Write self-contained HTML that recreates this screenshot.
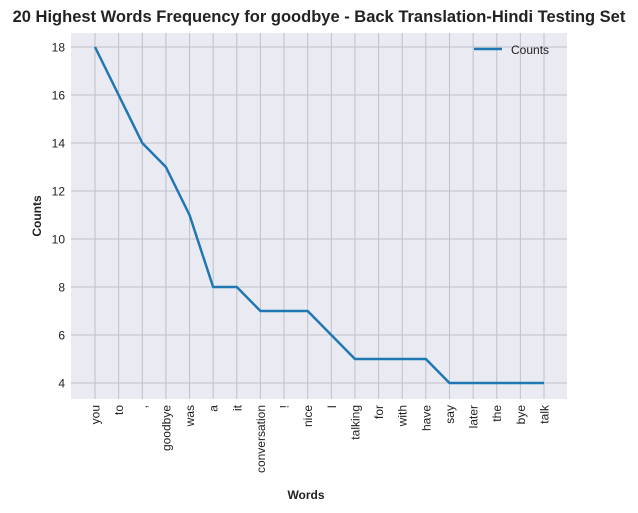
<!DOCTYPE html>
<html><head><meta charset="utf-8"><style>
body{margin:0;background:#fff;}
svg{display:block;font-family:"Liberation Sans",Arial,sans-serif;}
</style></head><body>
<svg id="chart" width="638" height="513">
<text x="319" y="22" text-anchor="middle" font-size="16.5" font-weight="bold" fill="#222">20 Highest Words Frequency for goodbye - Back Translation-Hindi Testing Set</text>
<rect x="71" y="33" width="496" height="366" fill="#eaeaf2"/>
<g id="grid"></g>
<g id="yticks"></g>
<g id="xticks"></g>
<path id="line" fill="none" stroke="#1f77b4" stroke-width="2.5" stroke-linejoin="round"/>
<text x="306" y="499" text-anchor="middle" font-size="12" font-weight="bold" fill="#222">Words</text>
<text transform="translate(41,216) rotate(-90)" text-anchor="middle" font-size="12" font-weight="bold" fill="#222">Counts</text>
<g>
<line x1="474" y1="49" x2="502" y2="49" stroke="#1f77b4" stroke-width="2.5"/>
<text x="511" y="54" font-size="12" fill="#222">Counts</text>
</g>
</svg>
<script>
const categories=["you","to",",","goodbye","was","a","it","conversation","!","nice","I","talking","for","with","have","say","later","the","bye","talk"];
const counts=[18,16,14,13,11,8,8,7,7,7,6,5,5,5,5,4,4,4,4,4];
const yTicks=[4,6,8,10,12,14,16,18];
const NS="http://www.w3.org/2000/svg";
const x0=95,x1=544,yTop=47,yBot=383;
function xs(i){return x0+(x1-x0)*i/(categories.length-1);}
function ys(v){return yBot-(v-4)*(yBot-yTop)/14;}
function mk(t,a,p){const e=document.createElementNS(NS,t);for(const k in a)e.setAttribute(k,a[k]);p.appendChild(e);return e;}
const grid=document.getElementById('grid'),yt=document.getElementById('yticks'),xt=document.getElementById('xticks');
yTicks.forEach(v=>{
 const l=mk('line',{x1:71,x2:567,y1:ys(v),y2:ys(v),stroke:'#c0c0c8','stroke-width':1},grid);
 
 
 const t=mk('text',{x:65,y:ys(v)+4.5,'text-anchor':'end','font-size':12,fill:'#222'},yt);
 t.textContent=v;
 
 
});
categories.forEach((c,i)=>{
 const l=mk('line',{x1:xs(i),x2:xs(i),y1:33,y2:399,stroke:'#c0c0c8','stroke-width':1},grid);
 
 
 const t=mk('text',{transform:`translate(${xs(i)+4.5},405) rotate(-90)`,'text-anchor':'end','font-size':12,fill:'#222'},xt);
 t.textContent=c;
 
 
});
document.getElementById('line').setAttribute('d',counts.map((v,i)=>(i?'L':'M')+xs(i)+','+ys(v)).join(' '));
</script>
</body></html>
